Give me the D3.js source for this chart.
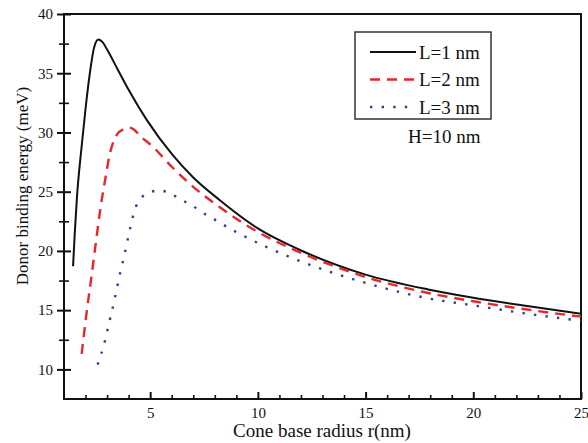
<!DOCTYPE html>
<html>
<head>
<meta charset="utf-8">
<script src="https://cdn.jsdelivr.net/npm/d3@7"></script>
<style>
  body { margin: 0; background: #fff; }
  svg text { font-family: "Liberation Serif", "Times New Roman", serif; fill: #111; }
</style>
</head>
<body>
<div id="chart"></div>
<script>
// radius r (nm) and binding energy (meV)
const r_L1 = [1.42, 1.5, 1.6, 1.8, 2.0, 2.2, 2.4, 2.6, 2.8, 3.0, 3.5, 4.0, 4.84, 6.04, 7.0, 8.22, 10, 11.93, 15, 17.9, 20, 22.5, 25];
const e_L1 = [18.7, 21.5, 24.5, 28.5, 32.0, 35.0, 37.2, 37.85, 37.6, 37.0, 35.3, 33.6, 31.06, 28.1, 26.2, 24.3, 21.9, 20.1, 18.0, 16.75, 16.05, 15.35, 14.7];

const r_L2 = [1.82, 2.05, 2.28, 2.5, 2.7, 2.9, 3.13, 3.45, 3.8, 4.06, 4.66, 5.0, 6.06, 7.14, 8.22, 10, 11.8, 15, 17.9, 20, 22.5, 25];
const e_L2 = [11.3, 14.8, 17.9, 21.0, 23.7, 25.9, 28.2, 29.8, 30.3, 30.4, 29.5, 29.0, 27.0, 25.2, 23.7, 21.6, 20.0, 17.8, 16.45, 15.75, 15.05, 14.45];

const r_L3 = [2.56, 2.9, 3.13, 3.36, 3.59, 3.82, 4.06, 4.29, 4.52, 4.9, 5.44, 5.98, 6.45, 6.9, 7.37, 7.76, 8.69, 9.2, 11.6, 15, 17.9, 20, 22.5, 25];
const e_L3 = [10.4, 12.4, 14.2, 16.0, 18.0, 19.8, 21.8, 23.5, 24.3, 24.9, 25.1, 24.8, 24.3, 23.9, 23.3, 22.9, 21.9, 21.4, 19.4, 17.3, 16.0, 15.4, 14.7, 14.1];

const seriesNames = ["L=1 nm", "L=2 nm", "L=3 nm"];
const xTicks = [5, 10, 15, 20, 25];
const yTicks = [10, 15, 20, 25, 30, 35, 40];

const series = [
  {name: seriesNames[0], r: r_L1, e: e_L1, color: "#111", dash: null, width: 2},
  {name: seriesNames[1], r: r_L2, e: e_L2, color: "#e8262a", dash: "10,7", width: 2.4},
  {name: seriesNames[2], r: r_L3, e: e_L3, color: "#3a3a98", dash: "2.4,9.2", width: 2.4}
];

const svgWidth = 588, svgHeight = 443;
const svg = d3.select("#chart").append("svg")
    .attr("width", svgWidth)
    .attr("height", svgHeight);

const margin = {top: 14, right: 7, bottom: 44, left: 64},
      width = svgWidth - margin.left - margin.right,
      height = svgHeight - margin.top - margin.bottom;

const g = svg.append("g")
    .attr("transform", "translate(" + margin.left + "," + margin.top + ")");

const x = d3.scaleLinear().domain([1, 25]).range([0, width]);
const y = d3.scaleLinear().domain([7.5, 40]).range([height, 0]);

// minor ticks
g.append("g")
    .attr("transform", "translate(0," + height + ")")
    .call(d3.axisBottom(x).tickValues(d3.range(2, 25, 1).filter(v => v % 5 !== 0)).tickSize(-4).tickFormat(""))
    .call(a => a.select(".domain").remove())
    .selectAll("line").attr("stroke", "#111").attr("stroke-width", 1.6);

g.append("g")
    .call(d3.axisLeft(y).tickValues(d3.range(12.5, 40, 5)).tickSize(5).tickFormat(""))
    .call(a => a.select(".domain").remove())
    .selectAll("line").attr("stroke", "#111").attr("stroke-width", 1.6).attr("x2", 5).attr("x1", -5);

// X axis
const xAxis = g.append("g")
    .attr("transform", "translate(0," + height + ")")
    .call(d3.axisBottom(x).tickValues(xTicks).tickSize(-7).tickPadding(8));
xAxis.select(".domain").remove();
xAxis.selectAll("line").attr("stroke", "#111").attr("stroke-width", 2);
xAxis.selectAll("text").style("font-size", "15px").attr("fill", "#111");

// Y axis
const yAxis = g.append("g")
    .call(d3.axisLeft(y).tickValues(yTicks).tickSize(7).tickPadding(4));
yAxis.select(".domain").remove();
yAxis.selectAll("line").attr("stroke", "#111").attr("stroke-width", 2).attr("x1", 7);
yAxis.selectAll("text").style("font-size", "15px").attr("fill", "#111");

// frame
g.append("rect")
    .attr("x", 0).attr("y", 0)
    .attr("width", width).attr("height", height)
    .attr("fill", "none")
    .attr("stroke", "#111")
    .attr("stroke-width", 2);

// curves
const line = d3.line()
    .x(d => x(d[0]))
    .y(d => y(d[1]))
    .curve(d3.curveMonotoneX);

g.append("g")
    .selectAll("path")
    .data(series)
    .enter()
    .append("path")
        .attr("d", d => line(d.r.map((v, i) => [v, d.e[i]])))
        .attr("fill", "none")
        .attr("stroke", d => d.color)
        .attr("stroke-width", d => d.width)
        .attr("stroke-dasharray", d => d.dash);

// legend
const legend = svg.append("g").attr("transform", "translate(355,32)");
legend.append("rect")
    .attr("width", 136).attr("height", 87)
    .attr("fill", "#fff")
    .attr("stroke", "#333")
    .attr("stroke-width", 1.5);

const item = legend.selectAll(".item")
    .data(series)
    .enter()
    .append("g")
        .attr("transform", (d, i) => "translate(0," + (20 + i * 27.5) + ")");
item.append("line")
    .attr("x1", 15).attr("x2", 61)
    .attr("stroke", d => d.color)
    .attr("stroke-width", d => d.width)
    .attr("stroke-dasharray", d => d.dash);
item.append("text")
    .attr("x", 64).attr("y", 6.5)
    .style("font-size", "19px")
    .text(d => d.name);

svg.append("text")
    .attr("x", 408).attr("y", 143)
    .style("font-size", "19px")
    .text("H=10 nm");

// axis titles
svg.append("text")
    .attr("x", 322).attr("y", 437)
    .attr("text-anchor", "middle")
    .style("font-size", "19px")
    .text("Cone base radius r(nm)");

svg.append("text")
    .attr("transform", "translate(28,186)rotate(-90)")
    .attr("text-anchor", "middle")
    .style("font-size", "17px")
    .text("Donor binding energy (meV)");
</script>
</body>
</html>
